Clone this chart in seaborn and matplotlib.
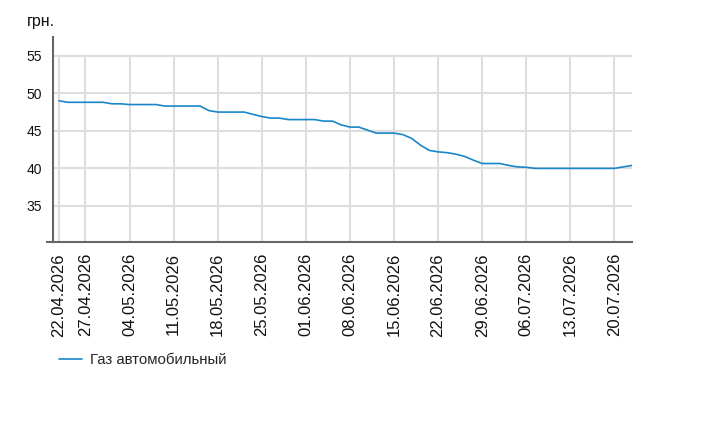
"""
Gas price chart (weekdays only)
"""

import pandas as pd
import matplotlib
matplotlib.use("Agg")
import matplotlib.pyplot as plt
import seaborn as sns

# ---------------------------------
# Data
# ---------------------------------

dates = pd.bdate_range("2026-04-22", "2026-07-22")
date_labels = [d.strftime("%d.%m.%Y") for d in dates]

prices = [
    49.0, 48.8, 48.8, 48.8, 48.8, 48.8, 48.6, 48.6, 48.5, 48.5,
    48.5, 48.5, 48.3, 48.3, 48.3, 48.3, 48.3, 47.7, 47.5, 47.5,
    47.5, 47.5, 47.2, 46.9, 46.7, 46.7, 46.5, 46.5, 46.5, 46.5,
    46.3, 46.3, 45.8, 45.5, 45.5, 45.1, 44.7, 44.7, 44.7, 44.5,
    44.0, 43.1, 42.4, 42.2, 42.1, 41.9, 41.6, 41.1, 40.65, 40.65,
    40.65, 40.4, 40.2, 40.15, 40.0, 40.0, 40.0, 40.0, 40.0, 40.0,
    40.0, 40.0, 40.0, 40.0, 40.2, 40.4,
]

series_name = "Газ автомобильный"
y_unit = "грн."
y_ticks = [35, 40, 45, 50, 55]

df = pd.DataFrame({"idx": range(len(prices)), "price": prices, "series": series_name})

# ---------------------------------
# Plot
# ---------------------------------

sns.set_style("white")
plt.rcParams["font.family"] = ["Liberation Sans", "DejaVu Sans"]

line_color = "#1a86c9"
axis_color = "#666666"
grid_color = "#dddddd"

fig = plt.figure(figsize=(7.13, 4.4), dpi=100)
ax = fig.add_axes([0.0659, 0.45, 0.8205, 0.466])

x_min, x_max = -1.36, len(prices) - 1
y_min, y_max = 30.2, 57.5
spine_x = -0.68

sns.lineplot(data=df, x="idx", y="price", hue="series",
             palette=[line_color], linewidth=1.2, ax=ax, legend=False,
             zorder=3)

tick_pos = [i for i, d in enumerate(dates) if d.weekday() == 0 or i == 0]
ax.set_xticks(tick_pos)
ax.set_xticklabels([date_labels[i] for i in tick_pos], rotation=90, fontsize=12)
ax.set_yticks(y_ticks)
ax.set_yticklabels([str(t) for t in y_ticks], fontsize=11.5)

# grid lines: vertical ones stop at the top tick, horizontal start at the spine
ax.vlines(tick_pos, y_min, y_ticks[-1], color=grid_color, linewidth=1.5, zorder=1)
ax.hlines(y_ticks, spine_x, x_max, color=grid_color, linewidth=1.5, zorder=1)

ax.set_xlim(x_min, x_max)
ax.set_ylim(y_min, y_max)
ax.set_xlabel("")
ax.set_ylabel("")

for side in ["top", "right"]:
    ax.spines[side].set_visible(False)
for side in ["left", "bottom"]:
    ax.spines[side].set_color(axis_color)
    ax.spines[side].set_linewidth(1.5)
ax.spines["left"].set_position(("data", spine_x))

ax.tick_params(axis="both", direction="out", length=5, width=1.2,
               color=axis_color, labelcolor="#111111", pad=3)

fig.text(0.037, 0.952, y_unit, fontsize=11.5, color="#111111", va="center")

# ---------------------------------
# Legend
# ---------------------------------

handle = plt.Line2D([], [], color=line_color, linewidth=1.2)
fig.legend([handle], [series_name], loc="center left",
           bbox_to_anchor=(0.064, 0.182), frameon=False, fontsize=10.8,
           handlelength=1.5, handletextpad=0.55)

fig.savefig("out.png", dpi=100)
